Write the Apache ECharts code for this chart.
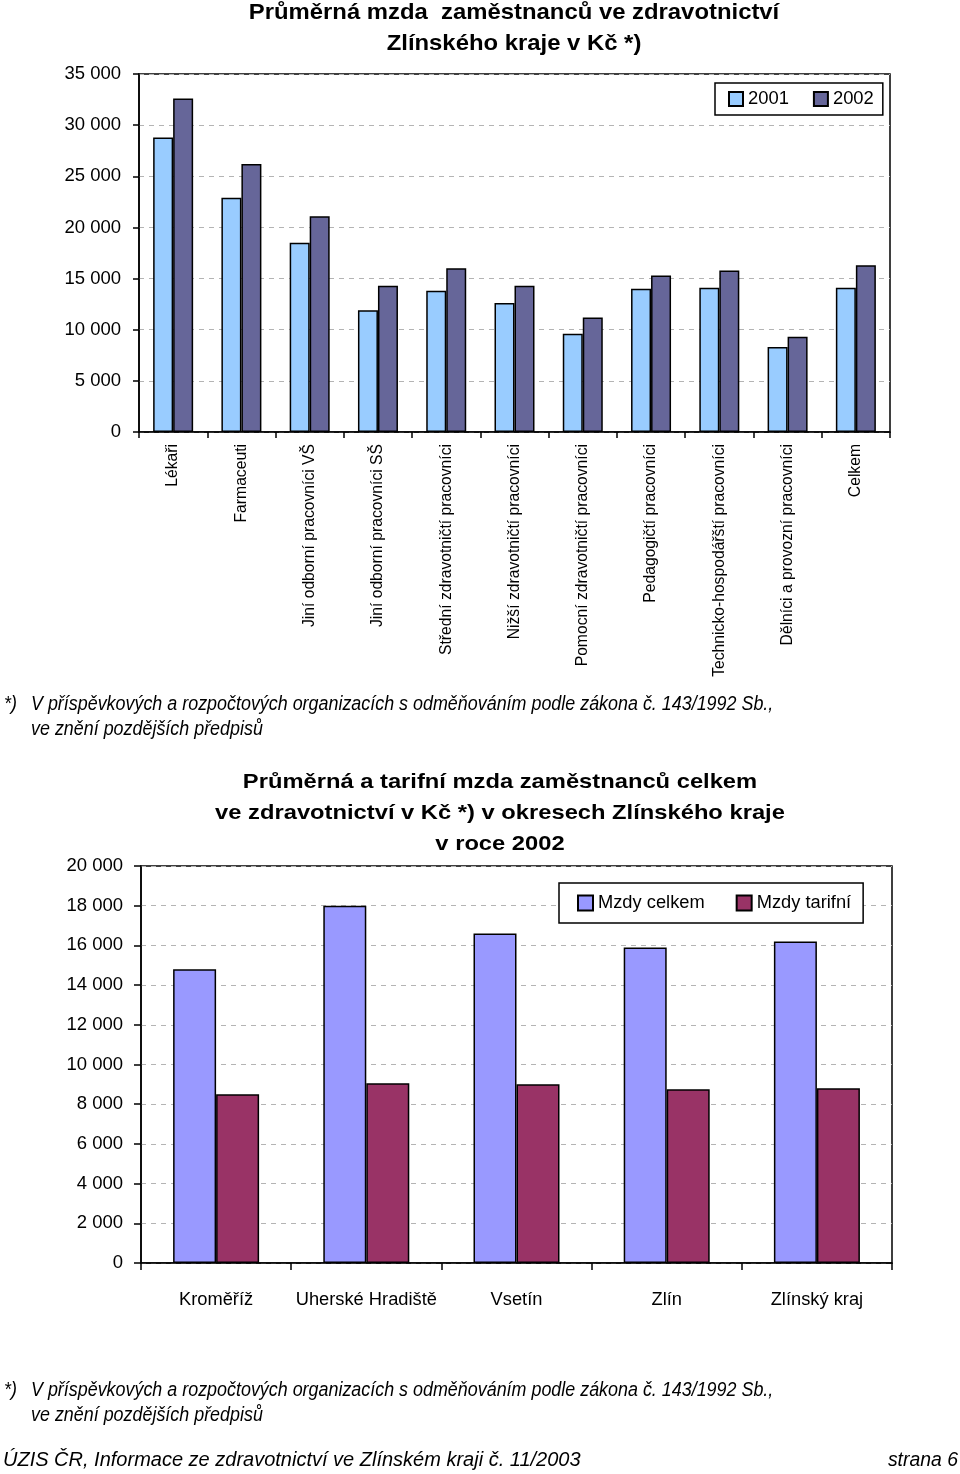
<!DOCTYPE html>
<html>
<head>
<meta charset="utf-8">
<script src="https://cdn.jsdelivr.net/npm/echarts@6/dist/echarts.min.js"></script>
<style>
html,body{margin:0;padding:0;background:#fff;}
#c{width:960px;height:1474px;}
</style>
</head>
<body>
<div id="c"></div>
<script>
// ---- data: chart 1 ----
const categories1 = ['Lékaři','Farmaceuti','Jiní odborní pracovníci VŠ','Jiní odborní pracovníci SŠ','Střední zdravotničtí pracovníci','Nižší zdravotničtí pracovníci','Pomocní zdravotničtí pracovníci','Pedagogičtí pracovníci','Technicko-hospodářští pracovníci','Dělníci a provozní pracovníci','Celkem'];
const values2001 = [28800, 22900, 18500, 11900, 13800, 12600, 9600, 14000, 14100, 8300, 14100];
const values2002 = [32600, 26200, 21100, 14300, 16000, 14300, 11200, 15300, 15800, 9300, 16300];
const seriesNames1 = ['2001','2002'];
// ---- data: chart 2 ----
const districts = ['Kroměříž','Uherské Hradiště','Vsetín','Zlín','Zlínský kraj'];
const mzdyCelkem = [14800, 18000, 16600, 15900, 16200];
const mzdyTarifni = [8500, 9050, 9000, 8750, 8800];
const seriesNames2 = ['Mzdy celkem','Mzdy tarifní'];
// ---- texts ----
const title1 = ['Průměrná mzda  zaměstnanců ve zdravotnictví','Zlínského kraje v Kč *)'];
const title2 = ['Průměrná a tarifní mzda zaměstnanců celkem','ve zdravotnictví v Kč *) v okresech Zlínského kraje','v roce 2002'];
const footnote = ['*)','V příspěvkových a rozpočtových organizacích s odměňováním podle zákona č. 143/1992 Sb.,','ve znění pozdějších předpisů'];
const footerLeft = 'ÚZIS ČR, Informace ze zdravotnictví ve Zlínském kraji č. 11/2003';
const footerRight = 'strana 6';

const FR = "'Liberation Sans',Arial,sans-serif";
const fmt = v => String(v).replace(/\B(?=(\d{3})+(?!\d))/g, ' ');

const chart = echarts.init(document.getElementById('c'), null, {renderer:'canvas'});

function txt(text, x, y, font, align, sx) {
  return {type:'text', x:x, y:y, scaleX:sx||1,
    style:{text:text, font:font, fill:'#000', textAlign:align||'left', textVerticalAlign:'middle'}};
}

const graphics = [];
title1.forEach((t,i)=>graphics.push(txt(t, 514, 13 + i*31, 'bold 21.5px ' + FR, 'center', 1.11)));
title2.forEach((t,i)=>graphics.push(txt(t, 500, 782 + i*31, 'bold 21px ' + FR, 'center', 1.13)));
[704, 1390].forEach(y=>{
  graphics.push(txt(footnote[0], 4, y, 'italic 20px ' + FR, 'left', 0.9));
  graphics.push(txt(footnote[1], 31, y, 'italic 20px ' + FR, 'left', 0.895));
  graphics.push(txt(footnote[2], 31, y + 25, 'italic 20px ' + FR, 'left', 0.895));
});
graphics.push(txt(footerLeft, 3, 1460, 'italic 20px ' + FR, 'left', 1));
graphics.push(txt(footerRight, 958, 1460, 'italic 20px ' + FR, 'right', 0.97));

const barBorder = {borderColor:'#000', borderWidth:1.5};
const splitLine = {show:true, lineStyle:{color:'#b4b4b4', type:[5,5], width:1}};

chart.setOption({
  animation:false,
  backgroundColor:'#fff',
  textStyle:{fontFamily:FR, color:'#000'},
  grid:[
    {left:139, top:74, width:751, height:358, show:true, borderColor:'#000', borderWidth:1.5, containLabel:false},
    {left:141, top:866, width:751, height:397, show:true, borderColor:'#000', borderWidth:1.5, containLabel:false}
  ],
  xAxis:[
    {type:'category', gridIndex:0, data:categories1,
     axisLine:{lineStyle:{color:'#000', width:1.5}},
     axisTick:{show:true, length:6, lineStyle:{color:'#000', width:1.5}},
     axisLabel:{rotate:90, interval:0, margin:12, fontSize:15.7, fontFamily:FR, color:'#000'}},
    {type:'category', gridIndex:1, data:districts,
     axisLine:{lineStyle:{color:'#000', width:1.5}},
     axisTick:{show:true, length:7, lineStyle:{color:'#000', width:1.5}},
     axisLabel:{interval:0, margin:28, fontSize:18.3, fontFamily:FR, color:'#000'}}
  ],
  yAxis:[
    {type:'value', gridIndex:0, min:0, max:35000, interval:5000,
     axisLine:{show:true, lineStyle:{color:'#000', width:1.5}},
     axisTick:{show:true, length:6, lineStyle:{color:'#000', width:1.5}},
     axisLabel:{margin:18, fontSize:18.5, fontFamily:FR, color:'#000', formatter:fmt},
     splitLine:splitLine},
    {type:'value', gridIndex:1, min:0, max:20000, interval:2000,
     axisLine:{show:true, lineStyle:{color:'#000', width:1.5}},
     axisTick:{show:true, length:7, lineStyle:{color:'#000', width:1.5}},
     axisLabel:{margin:18, fontSize:18.5, fontFamily:FR, color:'#000', formatter:fmt},
     splitLine:splitLine}
  ],
  legend:[
    {data:seriesNames1, left:715, top:83, orient:'horizontal', itemWidth:14, itemHeight:14, itemGap:24,
     padding:[7,9,7,13], borderColor:'#000', borderWidth:1.5, backgroundColor:'#fff', icon:'rect',
     textStyle:{fontSize:18.4, fontFamily:FR, color:'#000'}},
    {data:seriesNames2, left:559, top:883, orient:'horizontal', itemWidth:15, itemHeight:15, itemGap:31,
     padding:[11,12,11,18], borderColor:'#000', borderWidth:1.5, backgroundColor:'#fff', icon:'rect',
     textStyle:{fontSize:18.3, fontFamily:FR, color:'#000'}}
  ],
  series:[
    {name:seriesNames1[0], type:'bar', xAxisIndex:0, yAxisIndex:0, data:values2001, barWidth:20, barGap:'0%',
     itemStyle:Object.assign({color:'#99CCFF'}, barBorder)},
    {name:seriesNames1[1], type:'bar', xAxisIndex:0, yAxisIndex:0, data:values2002, barWidth:20, barGap:'0%',
     itemStyle:Object.assign({color:'#666699'}, barBorder)},
    {name:seriesNames2[0], type:'bar', xAxisIndex:1, yAxisIndex:1, data:mzdyCelkem, barWidth:43, barGap:'0%',
     itemStyle:Object.assign({color:'#9999FF'}, barBorder)},
    {name:seriesNames2[1], type:'bar', xAxisIndex:1, yAxisIndex:1, data:mzdyTarifni, barWidth:43, barGap:'0%',
     itemStyle:Object.assign({color:'#993366'}, barBorder)}
  ],
  graphic:graphics
});
</script>
</body>
</html>
